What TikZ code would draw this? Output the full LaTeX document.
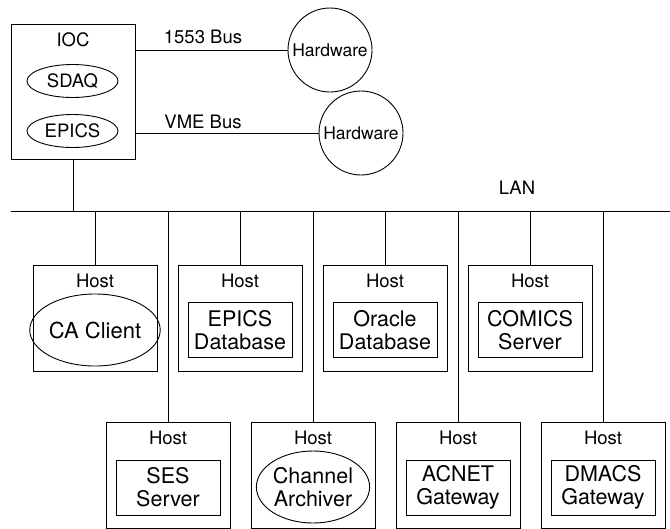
\documentclass[tikz,border=0pt]{standalone}
\usepackage{fontspec}
\setmainfont{TeX Gyre Heros}
\usetikzlibrary{shapes.geometric}
\begin{document}
\begin{tikzpicture}[x=1pt,y=-1pt,
  line width=0.9pt, line cap=butt,
  every node/.style={inner sep=0pt, outer sep=0pt},
  lbl/.style={font=\fontsize{18.5}{20}\selectfont},
  inlbl/.style={font=\fontsize{21.5}{22.7}\selectfont, align=center},
  hostbox/.style={draw, rectangle, minimum width=124pt, minimum height=106pt},
  iocbox/.style={draw, rectangle, minimum width=124pt, minimum height=135pt},
  innerbox/.style={draw, rectangle, minimum width=104pt, minimum height=55pt, inlbl},
  innerell/.style={draw, ellipse, minimum width=103pt, minimum height=72pt, inlbl},
  iocell/.style={draw, ellipse, minimum width=91pt, minimum height=33pt, lbl},
  hwcirc/.style={draw, circle, minimum size=84pt, font=\fontsize{17.5}{19}\selectfont}]
\useasboundingbox (0,0) rectangle (670,528);
\clip (0,0) rectangle (670,528);

% IOC
\node[iocbox] (ioc) at (73,91.5) {};
\node[lbl] (ioclbl) at (73,40) {IOC};
\node[iocell] (sdaq) at (72.5,81) {SDAQ};
\node[iocell] (epics) at (72.5,131) {EPICS};

% Hardware
\node[hwcirc] (hw1) at (330,50) {Hardware};
\node[hwcirc] (hw2) at (361,133) {Hardware};
\draw (hw1.west -| ioc.east) -- (hw1.west);
\draw (hw2.west -| ioc.east) -- (hw2.west);
\node[lbl] (bus1) at (203,37) {1553 Bus};
\node[lbl] (bus2) at (203,122) {VME Bus};

% LAN
\coordinate (lanL) at (11,211.5);
\coordinate (lanR) at (670,211.5);
\draw (lanL) -- (lanR);
\node[lbl] (lan) at (517,188) {LAN};
\draw (ioc.south) -- (ioc.south |- lanL);

% Top hosts
\node[hostbox] (h1) at (95,318) {};
\node[hostbox] (h2) at (240,318) {};
\node[hostbox] (h3) at (385,318) {};
\node[hostbox] (h4) at (530,318) {};
\foreach \h in {h1,h2,h3,h4}{
  \draw (\h.north) -- (\h.north |- lanL);
  \node[lbl] at ([yshift=-16pt]\h.north) {Host};
}
\node[innerell, font=\fontsize{22}{23}\selectfont] (ca) at (95,330) {CA Client};
\node[innerbox] (edb) at (240,330) {EPICS\\Database};
\node[innerbox] (odb) at (385,330) {Oracle\\Database};
\node[innerbox] (com) at (530,330) {COMICS\\Server};

% Bottom hosts
\node[hostbox] (h5) at (168,475) {};
\node[hostbox] (h6) at (313,475) {};
\node[hostbox] (h7) at (458,475) {};
\node[hostbox] (h8) at (603,475) {};
\foreach \h in {h5,h6,h7,h8}{
  \draw (\h.north) -- (\h.north |- lanL);
  \node[lbl] at ([yshift=-16pt]\h.north) {Host};
}
\node[innerbox] (ses) at (168,487.5) {SES\\Server};
\node[innerell] (arch) at (313,487) {Channel\\Archiver};
\node[innerbox] (acnet) at (458,487.5) {ACNET\\Gateway};
\node[innerbox] (dmacs) at (603,487.5) {DMACS\\Gateway};
\end{tikzpicture}
\end{document}
